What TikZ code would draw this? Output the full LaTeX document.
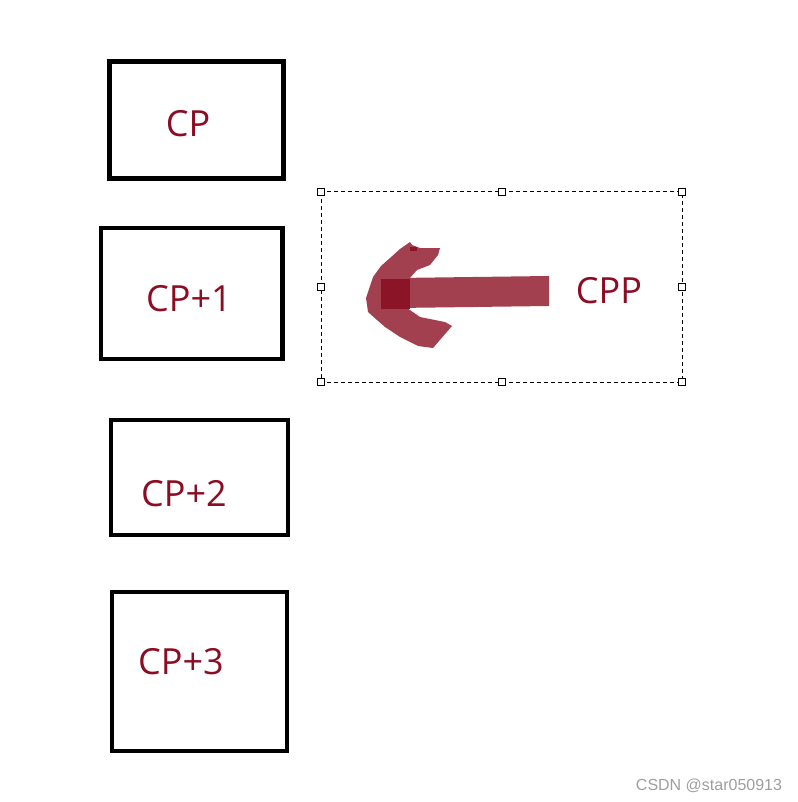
\documentclass[tikz,border=0pt]{standalone}
\usepackage{fontspec}
\setmainfont{Open Sans}
\newfontfamily\wmfont{Liberation Sans}
\definecolor{cpred}{RGB}{140,12,36}
\definecolor{arrowred}{RGB}{163,64,79}
\definecolor{darksq}{RGB}{139,20,38}
\tikzset{
  cpbox/.style={draw=black, line width=4.5pt, fill=none},
  cplabel/.style={text=cpred, font=\fontsize{36}{40}\selectfont, inner sep=0pt},
  handle/.style={draw=black, fill=white, line width=1pt, minimum size=7pt, inner sep=0pt},
}
\begin{document}
\begin{tikzpicture}[x=1pt,y=-1pt]
\useasboundingbox (0,0) rectangle (797,802);
% boxes
\draw[cpbox] (109.5,61.5) rectangle (283.5,178.5);
\draw[cpbox] (101,228) rectangle (282.5,359);
\draw[cpbox] (111,420) rectangle (288,535);
\draw[cpbox] (112,592) rectangle (287,751);
\node[cplabel] (cp0) at (188,124) {CP};
\node[cplabel] (cp1) at (189,299) {CP+1};
\node[cplabel] (cp2) at (184,494) {CP+2};
\node[cplabel] (cp3) at (181,662) {CP+3};
% selection frame
\draw[line width=1pt, dash pattern=on 4pt off 3pt] (321,192) rectangle (682,382);
\foreach \x/\y [count=\i] in {321/192,501.5/192,682/192,321/287,682/287,321/382,501.5/382,682/382}
  \node[handle] (h\i) at (\x,\y) {};
% arrow
\fill[arrowred] (397,278) -- (549,276) -- (549,306) -- (397,308) -- cycle;
\fill[arrowred] (410,242) -- (412,245) -- (420,248) -- (440,248) -- (438,255) -- (430,265)
  -- (417,270) -- (402,287) -- (397,298) -- (407,308) -- (420,317) -- (445,322) -- (452,326)
  -- (433,348) -- (418,346) -- (400,337) -- (385,327) -- (377,320) -- (368,312)
  -- (366,298) -- (373,277) -- (381,266) -- (390,258) -- (400,249) -- cycle;
\fill[darksq] (381,279) rectangle (410,309);
\fill[darksq] (410,247) rectangle (417,251);
\node[cplabel] (cpp) at (609,291) {CPP};
\node[text=black!38, font=\wmfont\fontsize{16}{18}\selectfont, inner sep=0pt] (wm) at (709,786) {CSDN @star050913};
\end{tikzpicture}
\end{document}
